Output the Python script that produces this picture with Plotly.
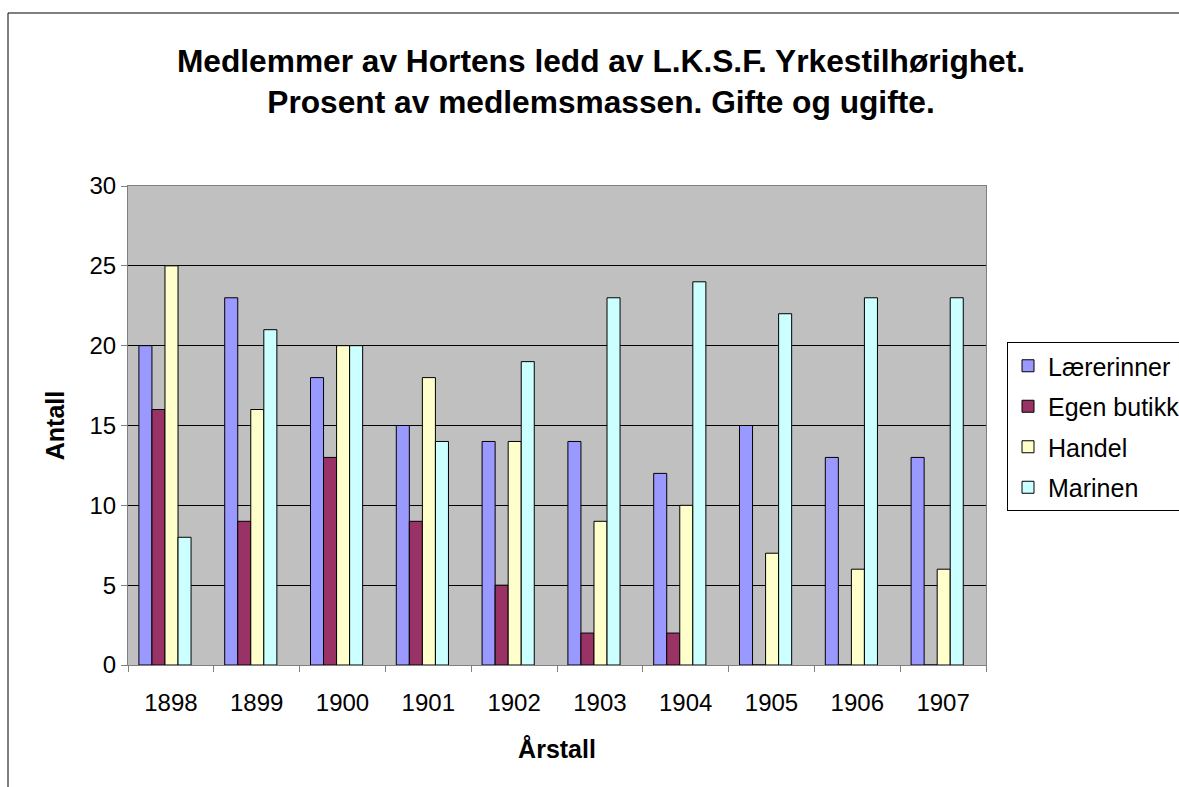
import plotly.graph_objects as go

years = ["1898", "1899", "1900", "1901", "1902", "1903", "1904", "1905", "1906", "1907"]
laererinner = [20, 23, 18, 15, 14, 14, 12, 15, 13, 13]
egen_butikk = [16, 9, 13, 9, 5, 2, 2, 0, 0, 0]
handel = [25, 16, 20, 18, 14, 9, 10, 7, 6, 6]
marinen = [8, 21, 20, 14, 19, 23, 24, 22, 23, 23]

series = [
    ("Lærerinner", laererinner, "#9999FF"),
    ("Egen butikk", egen_butikk, "#993366"),
    ("Handel", handel, "#FFFFCC"),
    ("Marinen", marinen, "#CCFFFF"),
]

FONT = "Liberation Sans, Arial, sans-serif"
BAR_W = 0.152
GROUP_START = -0.373

fig = go.Figure()
for i, (name, vals, col) in enumerate(series):
    fig.add_trace(go.Bar(
        x=years, y=vals, name=name, legendgroup=name,
        width=BAR_W, offset=GROUP_START + i * BAR_W,
        marker=dict(color=col, line=dict(color="black", width=1)),
    ))

W, H = 1179, 787
L, R, T, B = 128, 1179 - 986, 186, 787 - 665
pw = W - L - R
ph = H - T - B

bx0, by_top = (8 - L) / pw, (665 - 13) / ph
bx1, by_bot = (1300 - L) / pw, (665 - 850) / ph
border = dict(color="black", width=1)

fig.update_layout(
    width=W, height=H,
    margin=dict(l=L, r=R, t=T, b=B, autoexpand=False),
    paper_bgcolor="white",
    plot_bgcolor="#C0C0C0",
    barmode="group",
    font=dict(family=FONT, size=24, color="black"),
    title=dict(
        text="<b>Medlemmer av Hortens ledd av L.K.S.F. Yrkestilhørighet.<br>Prosent av medlemsmassen. Gifte og ugifte.</b>",
        font=dict(family=FONT, size=31.7, color="black"),
        x=601 / W, xanchor="center",
        y=1 - 72 / H, yanchor="top", yref="container",
    ),
    legend=dict(
        x=(1007 - L) / pw, xanchor="left",
        y=(665 - 342) / ph, yanchor="top",
        bordercolor="black", borderwidth=1, bgcolor="white",
        font=dict(family=FONT, size=25, color="black"),
        traceorder="grouped", tracegroupgap=5,
    ),
    xaxis=dict(
        type="category",
        tickson="boundaries", ticks="outside", ticklen=6, tickcolor="#808080",
        showline=True, linecolor="#808080", linewidth=1, mirror=True,
        showgrid=False,
        tickfont=dict(size=24),
        ticklabelstandoff=16,
        title=dict(text="<b>Årstall</b>", font=dict(size=25), standoff=25),
    ),
    yaxis=dict(
        range=[0, 30], dtick=5, tick0=0,
        ticks="outside", ticklen=6, tickcolor="#808080",
        showline=True, linecolor="#808080", linewidth=1, mirror=True,
        showgrid=True, gridcolor="black", gridwidth=1,
        zeroline=False,
        tickfont=dict(size=24),
        title=dict(text="<b>Antall</b>", font=dict(size=25), standoff=17),
    ),
    shapes=[
        dict(type="line", xref="paper", yref="paper",
             x0=bx0, x1=bx1, y0=by_top, y1=by_top, line=border, layer="below"),
        dict(type="line", xref="paper", yref="paper",
             x0=bx0, x1=bx0, y0=by_top, y1=by_bot, line=border, layer="below"),
    ],
)

fig.write_html("out.html", config={"displayModeBar": False},
               post_script="document.body.style.margin='0px';")
